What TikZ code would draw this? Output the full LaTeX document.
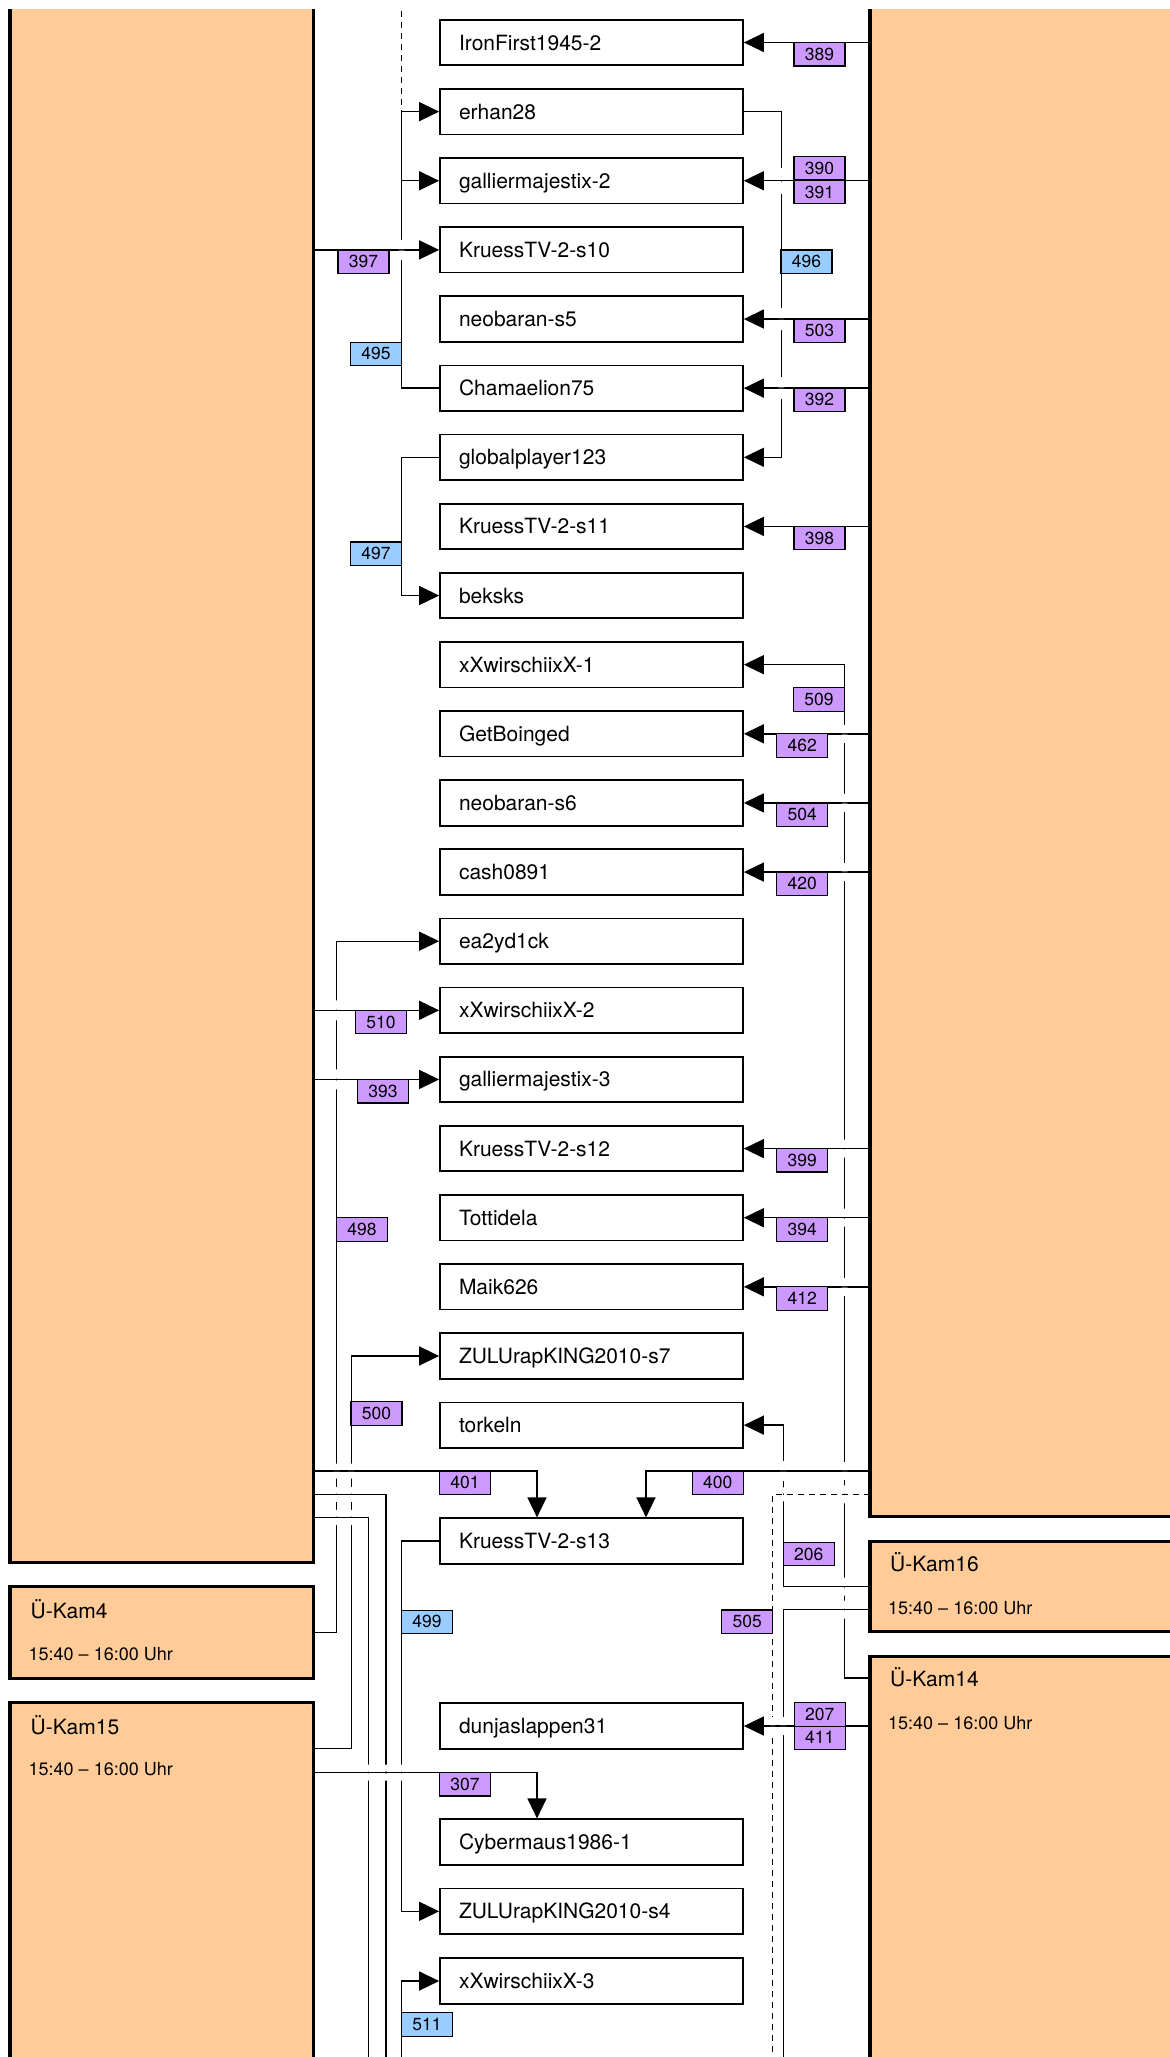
\documentclass[tikz,border=0pt]{standalone}
\usepackage{fontspec}
\setmainfont{TeX Gyre Heros}
\usetikzlibrary{arrows.meta,calc}
\definecolor{kamor}{HTML}{FFCC99}
\definecolor{lpur}{HTML}{CC99FF}
\definecolor{lblu}{HTML}{99CCFF}
\newcommand{\hop}[3]{\fill[white] (#1-3,#2-#3) rectangle (#1+3,#2-0.8) (#1-3,#2+0.8) rectangle (#1+3,#2+#3);}
\begin{document}
\begin{tikzpicture}[x=1pt,y=-1pt,
 conn/.style={line width=1.4pt},
 arr/.style={conn,-{Triangle[length=20pt,width=19pt]}},
 nbox/.style={draw,line width=1.7pt,fill=white,text width=265pt,inner xsep=19pt,inner ysep=0pt,minimum height=45.5pt,text height=15pt,text depth=0pt,align=left,font=\fontsize{21}{25}\selectfont},
 obox/.style={draw,line width=3.3pt,fill=kamor,outer sep=0pt,inner sep=0pt,anchor=north west},
 lab/.style={draw,line width=1.2pt,minimum width=51pt,minimum height=23.4pt,inner sep=0pt,text height=12.2pt,text depth=0pt,font=\fontsize{17.5}{20}\selectfont},
 lp/.style={lab,fill=lpur},
 lb/.style={lab,fill=lblu},
 ktitle/.style={anchor=base west,inner sep=0pt,font=\fontsize{21}{25}\selectfont},
 ktime/.style={anchor=base west,inner sep=0pt,font=\fontsize{18}{22}\selectfont}]
\useasboundingbox (0,0) rectangle (1170,2057);
\fill[white] (0,0) rectangle (1170,2057);
\clip (0,9) rectangle (1170,2057);
% orange boxes
\node[obox,minimum width=303.3pt,minimum height=1612.5pt] (lbig) at (10,-50) {};
\node[obox,minimum width=340pt,minimum height=1566.7pt] (rbig) at (870,-50) {};
\node[obox,minimum width=340pt,minimum height=90pt] (k16) at (870,1541.7) {};
\node[obox,minimum width=340pt,minimum height=450pt] (k14) at (870,1656.7) {};
\node[obox,minimum width=303.3pt,minimum height=91.6pt] (k4) at (10,1586.7) {};
\node[obox,minimum width=303.3pt,minimum height=450pt] (k15) at (10,1702.3) {};
\node[ktitle] (k4t) at (30.5,1618) {Ü-Kam4};
\node[ktime] (k4z) at (28.5,1660) {15:40 – 16:00 Uhr};
\node[ktitle] (k15t) at (30.5,1734) {Ü-Kam15};
\node[ktime] (k15z) at (28.5,1775) {15:40 – 16:00 Uhr};
\node[ktitle] (k16t) at (890,1571.7) {Ü-Kam16};
\node[ktime] (k16z) at (888,1614) {15:40 – 16:00 Uhr};
\node[ktitle] (k14t) at (890,1686.7) {Ü-Kam14};
\node[ktime] (k14z) at (888,1729) {15:40 – 16:00 Uhr};
% player nodes
\node[nbox] (iron) at (591.5,42.5) {IronFirst1945-2};
\node[nbox] (erhan) at (591.5,111.63) {erhan28};
\node[nbox] (gall2) at (591.5,180.76) {galliermajestix-2};
\node[nbox] (kr10) at (591.5,249.89) {KruessTV-2-s10};
\node[nbox] (neo5) at (591.5,319.02) {neobaran-s5};
\node[nbox] (cham) at (591.5,388.15) {Chamaelion75};
\node[nbox] (glob) at (591.5,457.28) {globalplayer123};
\node[nbox] (kr11) at (591.5,526.41) {KruessTV-2-s11};
\node[nbox] (beks) at (591.5,595.54) {beksks};
\node[nbox] (xx1) at (591.5,664.67) {xXwirschiixX-1};
\node[nbox] (getb) at (591.5,733.8) {GetBoinged};
\node[nbox] (neo6) at (591.5,802.93) {neobaran-s6};
\node[nbox] (cash) at (591.5,872.06) {cash0891};
\node[nbox] (ea2) at (591.5,941.19) {ea2yd1ck};
\node[nbox] (xx2) at (591.5,1010.32) {xXwirschiixX-2};
\node[nbox] (gall3) at (591.5,1079.45) {galliermajestix-3};
\node[nbox] (kr12) at (591.5,1148.58) {KruessTV-2-s12};
\node[nbox] (totti) at (591.5,1217.71) {Tottidela};
\node[nbox] (maik) at (591.5,1286.84) {Maik626};
\node[nbox] (zulu7) at (591.5,1355.97) {ZULUrapKING2010-s7};
\node[nbox] (tork) at (591.5,1425.1) {torkeln};
\node[nbox] (kr13) at (591.5,1541) {KruessTV-2-s13};
\node[nbox] (dunja) at (591.5,1726) {dunjaslappen31};
\node[nbox] (cyber) at (591.5,1842) {Cybermaus1986-1};
\node[nbox] (zulu4) at (591.5,1911.3) {ZULUrapKING2010-s4};
\node[nbox] (xx3) at (591.5,1981) {xXwirschiixX-3};
% bus coordinates
\coordinate (top) at (0,0);
\coordinate (bot) at (0,2080);
\coordinate (bA) at (781.4,0);
\coordinate (bB) at (844.5,0);
\coordinate (bC) at (783.4,0);
\coordinate (bD) at (772.7,0);
\coordinate (bE) at (646,0);
\coordinate (bF) at (537,0);
\coordinate (bL1) at (401.5,0);
\coordinate (bL2) at (336.5,0);
\coordinate (bL3) at (351.2,0);
\coordinate (bL4) at (368.3,0);
\coordinate (bL5) at (386,0);
\coordinate (bL6) at (401.7,0);
\coordinate (k14a) at ($(k14.north west)+(0,21.3)$);
\coordinate (k16a) at ($(k16.north west)+(0,45)$);
\coordinate (k16b) at ($(k16.north west)+(0,67.8)$);
\coordinate (rbd) at ($(rbig.south west)+(0,-22.4)$);
\coordinate (rb400) at ($(rbig.south west)+(0,-45.7)$);
\coordinate (lb401) at ($(lbig.south east)+(0,-91.5)$);
\coordinate (lb2) at ($(lbig.south east)+(0,-68.2)$);
\coordinate (lb3) at ($(lbig.south east)+(0,-45.2)$);
\coordinate (k15a) at ($(k15.north east)+(0,46.2)$);
\coordinate (k15b) at ($(k15.north east)+(0,70.2)$);
% right side connectors
\foreach \n in {iron,gall2,neo5,cham,kr11,getb,neo6,cash,kr12,totti,maik}
  \draw[arr] (rbig.west |- \n) -- (\n.east);
\draw[arr] (erhan.east) -- (erhan.east -| bA) |- (glob.east);
\draw[arr] (k14a) -- (k14a -| bB) |- (xx1.east);
\draw[arr] (k16a) -- (k16a -| bC) |- (tork.east);
\draw[conn] (k16b) -- (k16b -| bC) -- (bC |- bot);
\draw[conn,dash pattern=on 6pt off 5pt] (rbd) -- (rbd -| bD) -- (bD |- bot);
\draw[arr] (rb400) -- (rb400 -| bE) -- (bE |- kr13.north);
\draw[arr] (k14.west |- dunja) -- (dunja.east);
% left side connectors
\draw[conn,dash pattern=on 6pt off 5pt] (bL1 |- top) -- (bL1 |- erhan);
\draw[arr] (cham.west) -- (cham.west -| bL1) -- (bL1 |- erhan) -- (erhan.west);
\draw[arr] (bL1 |- gall2) -- (gall2.west);
\draw[arr] (lbig.east |- kr10) -- (kr10.west);
\draw[arr] (glob.west) -- (glob.west -| bL1) |- (beks.west);
\draw[arr] (k4.east) -- (k4.east -| bL2) |- (ea2.west);
\draw[arr] (lbig.east |- xx2) -- (xx2.west);
\draw[arr] (lbig.east |- gall3) -- (gall3.west);
\draw[arr] (k15a) -- (k15a -| bL3) |- (zulu7.west);
\draw[arr] (lb401) -- (lb401 -| bF) -- (bF |- kr13.north);
\draw[conn] (lb2) -- (lb2 -| bL5) -- (bL5 |- bot);
\draw[conn] (lb3) -- (lb3 -| bL4) -- (bL4 |- bot);
\draw[arr] (kr13.west) -- (kr13.west -| bL6) |- (zulu4.west);
\draw[arr] (bL6 |- bot) |- (xx3.west);
\draw[arr] (k15b) -- (k15b -| bF) -- (bF |- cyber.north);
% line hops
\hop{401.5}{249.89}{10}
\hop{781.4}{180.76}{13}
\hop{781.4}{319.02}{11}
\hop{781.4}{388.15}{11}
\foreach \yy in {733.8,802.93,872.06,1148.58,1217.71,1286.84,1471,1494.3,1586.7,1609.5}
  {\hop{844.5}{\yy}{9}}
\hop{336.5}{1010.32}{10}
\hop{336.5}{1079.45}{10}
\foreach \yy in {1471,1494.3,1517.3}
  {\hop{336.5}{\yy}{7.5}\hop{351.2}{\yy}{7.5}}
\hop{783.4}{1471}{10}
\hop{783.4}{1494.3}{7}
\hop{783.4}{1726}{9}
\hop{772.7}{1726}{9}
\hop{368.3}{1772.5}{8}
\hop{386}{1772.5}{8}
\hop{401.7}{1772.5}{8}
% labels
\node[lp] (l389) at (819.5,54.2) {389};
\node[lp] (l390) at (819.5,168) {390};
\node[lp] (l391) at (819.5,192) {391};
\node[lp] (l503) at (819.5,330.7) {503};
\node[lp] (l392) at (819.5,399.8) {392};
\node[lp] (l398) at (819.5,538.1) {398};
\node[lp] (l397) at (363.5,261.6) {397};
\node[lb] (l496) at (806.5,261.6) {496};
\node[lb] (l495) at (376,353.8) {495};
\node[lb] (l497) at (376,553.7) {497};
\node[lp] (l509) at (819,699.5) {509};
\node[lp] (l462) at (802.2,745.5) {462};
\node[lp] (l504) at (802.2,814.6) {504};
\node[lp] (l420) at (802.2,883.7) {420};
\node[lp] (l399) at (802.2,1160.3) {399};
\node[lp] (l394) at (802.2,1229.4) {394};
\node[lp] (l412) at (802.2,1298.5) {412};
\node[lp] (l510) at (381,1022) {510};
\node[lp] (l393) at (383,1091.2) {393};
\node[lp] (l498) at (362,1229.5) {498};
\node[lp] (l500) at (376.5,1413.4) {500};
\node[lp] (l401) at (465,1482.8) {401};
\node[lp] (l400) at (717.8,1482.7) {400};
\node[lp] (l206) at (808.8,1554) {206};
\node[lp] (l505) at (747.2,1621.7) {505};
\node[lb] (l499) at (427,1621.8) {499};
\node[lp] (l207) at (819.8,1714.5) {207};
\node[lp] (l411) at (819.8,1737.8) {411};
\node[lp] (l307) at (465,1784.2) {307};
\node[lb] (l511) at (427,2024.4) {511};
\end{tikzpicture}
\end{document}
